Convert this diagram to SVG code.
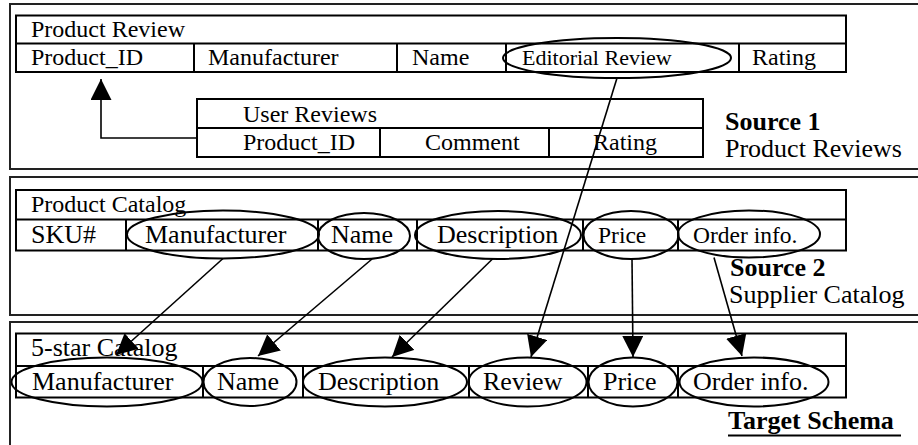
<svg xmlns="http://www.w3.org/2000/svg" width="918" height="445" viewBox="0 0 918 445">
  <style>
    text { font-family: "Liberation Serif", "Times New Roman", serif; fill: #000; }
    .panel { fill: none; stroke: #222; stroke-width: 2; }
    .tbl { fill: none; stroke: #000; stroke-width: 2; }
    .ov { fill: none; stroke: #000; stroke-width: 2; }
    .t24 { font-size: 24px; }
    .t26 { font-size: 26px; }
    .t23 { font-size: 23.5px; }
    .lbl { font-size: 26px; }
    .bold { font-weight: bold; }
    .conn { fill: none; stroke: #000; stroke-width: 1.6; }
  </style>
  <defs>
    <marker id="head" markerUnits="userSpaceOnUse" viewBox="0 0 20 20" markerWidth="21" markerHeight="21" refX="20" refY="10" orient="auto">
      <path d="M0,0 L20,10 L0,20 z" fill="#000"/>
    </marker>
  </defs>
  <rect width="918" height="445" fill="#fff"/>

  <!-- three source/target frames -->
  <g id="frames">
    <rect class="panel" x="10" y="4" width="920" height="165"/>
    <rect class="panel" x="10" y="177" width="920" height="138"/>
    <rect class="panel" x="10" y="322" width="920" height="140"/>
  </g>

  <!-- Source 1: Product Review table -->
  <g id="product-review">
    <rect class="tbl" x="16" y="15.5" width="830" height="56.5"/>
    <path class="tbl" d="M16 43.5H846M194 43.5V72M397 43.5V72M506 43.5V72M739 43.5V72"/>
    <text class="t24" x="31" y="37">Product Review</text>
    <text class="t24" x="31" y="65">Product_ID</text>
    <text class="t24" x="208" y="65">Manufacturer</text>
    <text class="t24" x="412" y="65">Name</text>
    <text x="522" y="65" style="font-size:22px">Editorial Review</text>
    <text class="t24" x="752" y="65">Rating</text>
    <ellipse class="ov" cx="617" cy="58" rx="114" ry="20"/>
  </g>

  <!-- Source 1: User Reviews table -->
  <g id="user-reviews">
    <rect class="tbl" x="197" y="99" width="506" height="58"/>
    <path class="tbl" d="M197 128H703M380 128V157M549 128V157"/>
    <text class="t24" x="243" y="122">User Reviews</text>
    <text class="t24" x="243" y="150">Product_ID</text>
    <text class="t24" x="425" y="150">Comment</text>
    <text class="t24" x="593" y="150">Rating</text>
  </g>

  <g id="source1-label">
    <text class="lbl bold" x="725" y="130">Source 1</text>
    <text class="lbl" x="725" y="157">Product Reviews</text>
  </g>

  <!-- Source 2: Product Catalog table -->
  <g id="product-catalog">
    <rect class="tbl" x="16" y="190" width="830" height="60.5"/>
    <path class="tbl" d="M16 219.5H846M126 219.5V250.5M318 219.5V250.5M417 219.5V250.5M583 219.5V250.5M678 219.5V250.5"/>
    <text class="t24" x="31" y="212">Product Catalog</text>
    <text class="t26" x="31" y="243">SKU#</text>
    <text class="t26" x="145" y="243">Manufacturer</text>
    <text class="t26" x="331" y="243">Name</text>
    <text class="t26" x="437" y="243">Description</text>
    <text class="t23" x="598" y="243">Price</text>
    <text class="t23" x="693" y="243">Order info.</text>
    <ellipse class="ov" cx="223" cy="234.5" rx="96" ry="24"/>
    <ellipse class="ov" cx="364" cy="236" rx="46" ry="23"/>
    <ellipse class="ov" cx="498" cy="235" rx="83" ry="24"/>
    <ellipse class="ov" cx="631" cy="235" rx="47.5" ry="24"/>
    <ellipse class="ov" cx="749" cy="234" rx="71" ry="23.5"/>
  </g>

  <g id="source2-label">
    <text class="lbl bold" x="730" y="276">Source 2</text>
    <text class="lbl" x="729" y="303">Supplier Catalog</text>
  </g>

  <!-- Target: 5-star Catalog table -->
  <g id="five-star-catalog">
    <rect class="tbl" x="16" y="333.5" width="830" height="64"/>
    <path class="tbl" d="M16 366H846M203 366V397.5M303 366V397.5M469 366V397.5M588 366V397.5M678 366V397.5"/>
    <text class="t26" x="31" y="356">5-star Catalog</text>
    <text class="t26" x="32" y="390">Manufacturer</text>
    <text class="t26" x="217" y="390">Name</text>
    <text class="t26" x="318" y="390">Description</text>
    <text class="t26" x="483" y="390">Review</text>
    <text class="t26" x="603" y="390">Price</text>
    <text class="t26" x="693" y="390">Order info.</text>
    <ellipse class="ov" cx="107" cy="382" rx="95.5" ry="24.5"/>
    <ellipse class="ov" cx="250" cy="382" rx="46.5" ry="24"/>
    <ellipse class="ov" cx="385" cy="382" rx="82" ry="24.5"/>
    <ellipse class="ov" cx="527.5" cy="382" rx="59" ry="24.5"/>
    <ellipse class="ov" cx="633" cy="382" rx="44.5" ry="24.5"/>
    <ellipse class="ov" cx="754" cy="382" rx="74.5" ry="24.5"/>
  </g>

  <g id="target-label">
    <text class="lbl bold" x="728" y="429">Target Schema</text>
    <line x1="728" y1="435.5" x2="901" y2="435.5" stroke="#000" stroke-width="2"/>
  </g>

  <!-- mappings -->
  <g id="connectors">
    <path class="conn" d="M197 138H101V79" marker-end="url(#head)"/>
    <line class="conn" x1="223" y1="258.5" x2="116" y2="355" marker-end="url(#head)"/>
    <line class="conn" x1="372" y1="259" x2="258" y2="356" marker-end="url(#head)"/>
    <line class="conn" x1="493" y1="258.5" x2="392" y2="357" marker-end="url(#head)"/>
    <line class="conn" x1="617" y1="78" x2="531" y2="357" marker-end="url(#head)"/>
    <line class="conn" x1="632" y1="259" x2="633" y2="357" marker-end="url(#head)"/>
    <line class="conn" x1="714" y1="257.5" x2="742" y2="356" marker-end="url(#head)"/>
  </g>
</svg>
